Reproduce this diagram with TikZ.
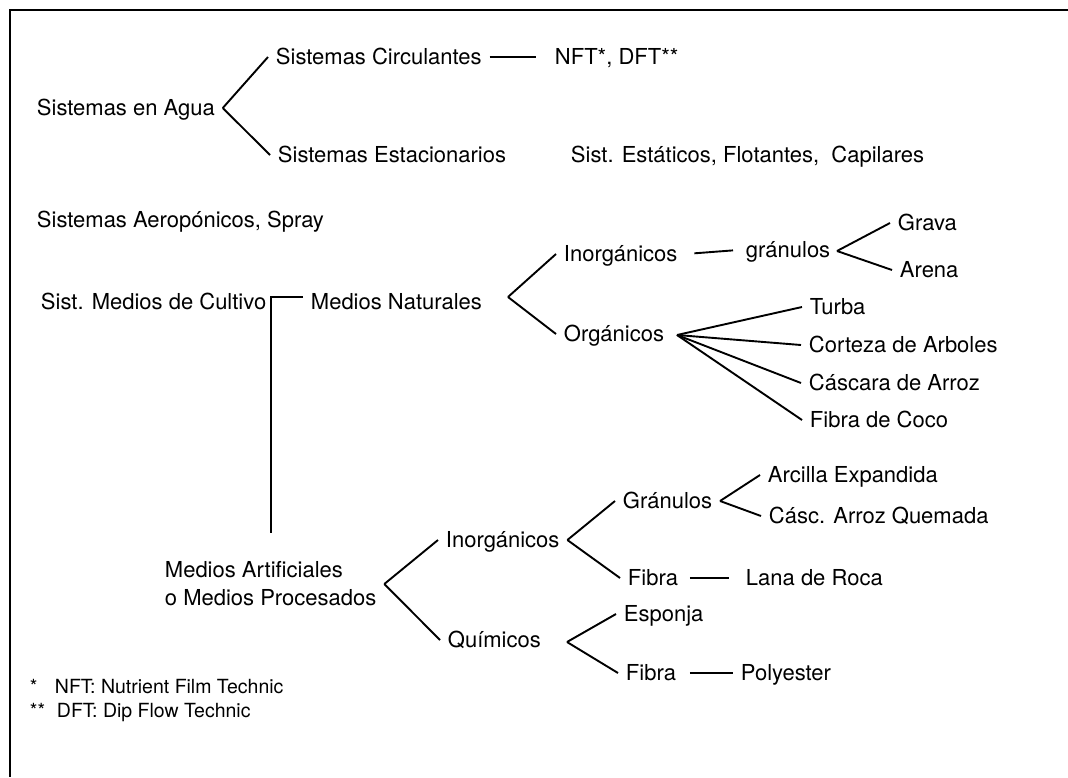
\documentclass[tikz,border=0pt]{standalone}
\usepackage{fontspec}
\setmainfont{TeX Gyre Heros}
\begin{document}
\begin{tikzpicture}[x=1pt, y=-1pt, line width=1.9pt,
  txt/.style={anchor=west, inner xsep=7pt, inner ysep=0pt, text height=15.8pt, text depth=0pt, font=\fontsize{22}{28}\selectfont},
  note/.style={anchor=base west, inner sep=0pt, font=\fontsize{19.5}{24}\selectfont}]
\useasboundingbox (0,0) rectangle (1068,777);
\draw[line width=2.6pt] (1068,10) -- (10,10) -- (10,777);
\node[txt] (agua) at (29,108) {Sistemas en Agua};
\node[txt] (circ) at (268,57) {Sistemas Circulantes};
\node[txt] (nft) at (547,57) {NFT*, DFT**};
\node[txt] (esta) at (270,155) {Sistemas Estacionarios};
\node[txt] (esti) at (563,155) {Sist. Estáticos, Flotantes, \ Capilares};
\node[txt] (aero) at (29,220) {Sistemas Aeropónicos, Spray};
\node[txt] (cult) at (33,302) {Sist. Medios de Cultivo};
\node[txt] (nat) at (303,302) {Medios Naturales};
\node[txt] (inorgA) at (556,254) {Inorgánicos};
\node[txt] (granA) at (738,250) {gránulos};
\node[txt] (grava) at (890,223) {Grava};
\node[txt] (arena) at (892,270) {Arena};
\node[txt] (org) at (556,334) {Orgánicos};
\node[txt] (turba) at (802,307) {Turba};
\node[txt] (corteza) at (801,345) {Corteza de Arboles};
\node[txt] (cascara) at (801,383) {Cáscara de Arroz};
\node[txt] (coco) at (802,420) {Fibra de Coco};
\node[anchor=west, inner xsep=7pt, inner ysep=0pt, align=left, font=\fontsize{22}{28}\selectfont] (art) at (157,584) {Medios Artificiales\\o Medios Procesados};
\node[txt] (inorgB) at (438,540) {Inorgánicos};
\node[txt] (granB) at (615,501) {Gránulos};
\node[txt] (arcilla) at (760,475) {Arcilla Expandida};
\node[txt] (quemada) at (761,516) {Cásc. Arroz Quemada};
\node[txt] (fibA) at (620,578) {Fibra};
\node[txt] (lana) at (738,578) {Lana de Roca};
\node[txt] (quim) at (440,640) {Químicos};
\node[txt] (esponja) at (616,614) {Esponja};
\node[txt] (fibB) at (618,673) {Fibra};
\node[txt] (poly) at (733,673) {Polyester};
\node[note] (fn1) at (29,693) {\makebox[25pt][l]{*}NFT: Nutrient Film Technic};
\node[note] (fn2) at (29,717) {\makebox[27pt][l]{**}DFT: Dip Flow Technic};
\coordinate (natJ) at (508,297);
\coordinate (granJ) at (837,251);
\coordinate (orgJ) at (677,335);
\coordinate (quimJ) at (567,642);
\coordinate (cultB) at (271,533);
\draw (agua.east) -- (circ.west);
\draw (agua.east) -- (esta.west);
\draw[shorten >=11pt] (circ.east) -- (nft.west);
\draw ([yshift=5pt]nat.west) -| (cultB);
\draw (natJ) -- (inorgA.west);
\draw (natJ) -- (org.west);
\draw[shorten <=9pt, shorten >=5pt] (inorgA.east) -- (granA.west);
\draw (granJ) -- (grava.west);
\draw (granJ) -- (arena.west);
\foreach \n in {turba,corteza,cascara,coco}
  \draw (orgJ) -- (\n.west);
\draw (art.east) -- (inorgB.west);
\draw (art.east) -- (quim.west);
\draw (inorgB.east) -- (granB.west);
\draw (inorgB.east) -- (fibA.west);
\draw (granB.east) -- (arcilla.west);
\draw (granB.east) -- (quemada.west);
\draw[shorten <=4pt, shorten >=9pt] (fibA.east) -- (lana.west);
\draw (quimJ) -- (esponja.west);
\draw (quimJ) -- (fibB.west);
\draw[shorten <=6pt] (fibB.east) -- (poly.west);
\end{tikzpicture}
\end{document}
